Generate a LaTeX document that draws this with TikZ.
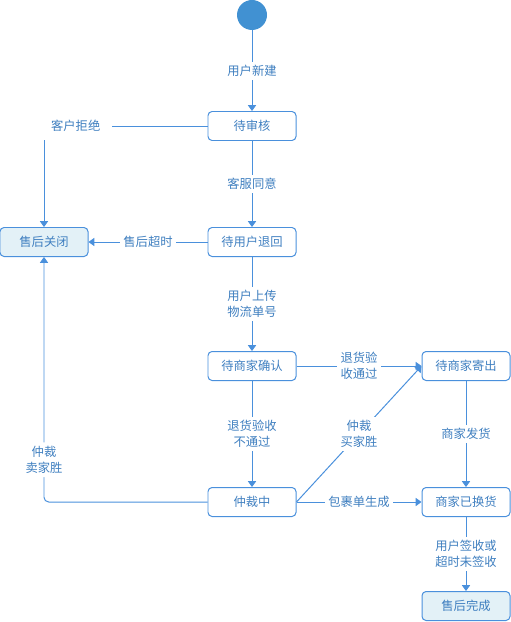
\documentclass[tikz,border=0pt]{standalone}
\usepackage{fontspec}
\setmainfont{Noto Sans CJK SC}
\usetikzlibrary{arrows.meta}
\definecolor{lineblue}{HTML}{4A90DC}
\definecolor{textblue}{HTML}{3F7FC0}
\definecolor{fillblue}{HTML}{E3F1F7}
\definecolor{dotblue}{HTML}{4191D2}
\tikzset{
every picture/.style={
line width=0.85pt
}}

\begin{document}
\begin{tikzpicture}[x=0.03cm, y=-0.03cm, 
font=\fontsize{10.5}{14}\selectfont,
block/.style = {rectangle, rounded corners=3.5pt, draw=lineblue, text=textblue, minimum width=2.64cm, minimum height=0.87cm, inner sep=0pt},
endblock/.style = {block, fill=fillblue},
line/.style = {draw=lineblue, -{Triangle[width=7pt, length=5pt]}},
lbl/.style = {fill=white, text=textblue, align=center, inner sep=3pt}]

\useasboundingbox (0,0) rectangle (511,622);

% states
\node[circle, fill=dotblue, minimum size=0.9cm, inner sep=0pt] (start) at (252,15) {};
\node[block] (shenhe) at (252,126) {待审核};
\node[block] (tuihui) at (252,242) {待用户退回};
\node[endblock] (guanbi) at (44,242) {售后关闭};
\node[block] (queren) at (252,366) {待商家确认};
\node[block] (jichu) at (466,366) {待商家寄出};
\node[block] (zhongcai) at (252,502) {仲裁中};
\node[block] (huanhuo) at (466,502) {商家已换货};
\node[endblock] (wancheng) at (466,606) {售后完成};

% transitions
\draw[line] (start) -- node[lbl] {用户新建} (shenhe);
\draw[line] (shenhe) -- node[lbl] {客服同意} (tuihui);
\draw[line] (shenhe.west) -| node[lbl, pos=0.403, minimum width=2.2cm, minimum height=0.84cm] {客户拒绝} (guanbi.north);
\draw[line] (tuihui) -- node[lbl] {售后超时} (guanbi);
\draw[line] (tuihui) -- node[lbl] {用户上传\\物流单号} (queren);
\draw[line] (queren) -- node[lbl] {退货验\\收通过} (jichu);
\draw[line] (queren) -- node[lbl] {退货验收\\不通过} (zhongcai);
\draw[line] (zhongcai.east) -- node[lbl] {仲裁\\买家胜} (jichu.west);
\draw[line, rounded corners=4pt] (zhongcai.west) -| node[lbl, pos=0.586] {仲裁\\卖家胜} (guanbi.south);
\draw[line] (zhongcai) -- node[lbl] {包裹单生成} (huanhuo);
\draw[line] (jichu) -- node[lbl] {商家发货} (huanhuo);
\draw[line] (huanhuo) -- node[lbl] {用户签收或\\超时未签收} (wancheng);
\end{tikzpicture}
\end{document}
